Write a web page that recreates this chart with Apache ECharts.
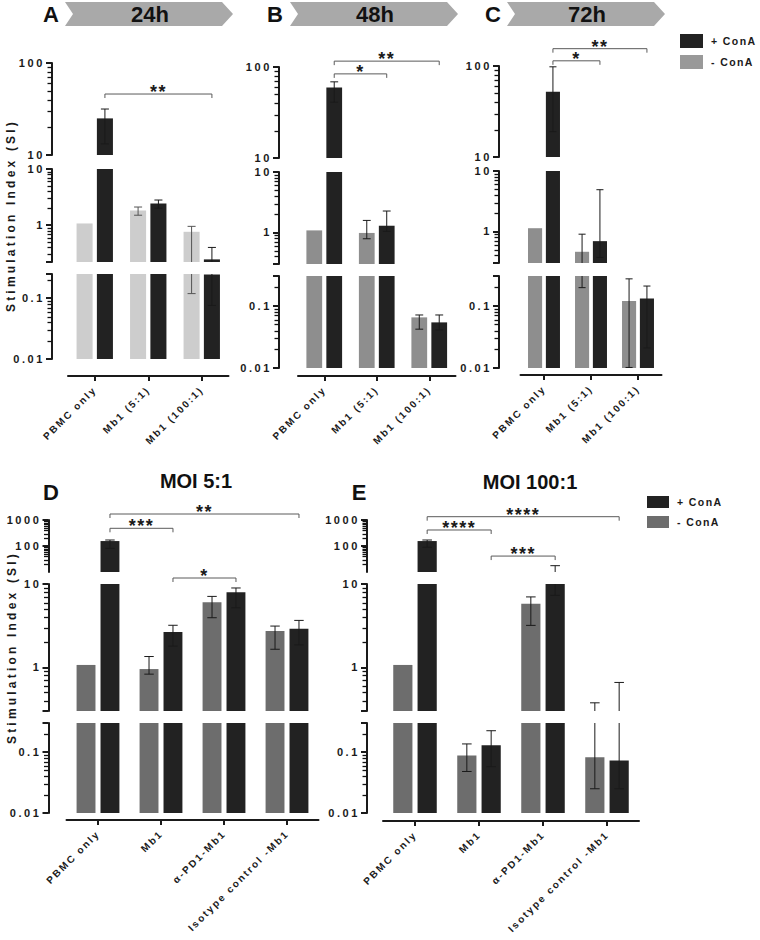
<!DOCTYPE html>
<html><head><meta charset="utf-8">
<script src="https://cdn.jsdelivr.net/npm/echarts@6/dist/echarts.min.js"></script>
<style>
html,body{margin:0;padding:0;background:#fff;}
#chart{width:760px;height:940px;}
#chart text[style*="Liberation Sans"]{letter-spacing:1.6px;}
#chart text[style*="Liberation Sans"][style*="11px"]{letter-spacing:2.6px;}
#chart text[style*="Liberation Sans"][style*="12px"]{letter-spacing:3.2px;}
#chart text[style*="Liberation Sans"][style*="10px"]{letter-spacing:2px;}
#chart text[style*="Liberation Sans"][style*="10.5px"]{letter-spacing:1.4px;}
#chart text[style*="Liberation Sans"][style*="18px"]{letter-spacing:1.5px;}
</style></head><body><div id="chart"></div>
<script>
// ---------------- DATA ----------------
const timeCategories = ['PBMC only', 'Mb1 (5:1)', 'Mb1 (100:1)'];
const moiCategories = ['PBMC only', 'Mb1', 'α-PD1-Mb1', 'Isotype control -Mb1'];
const seriesNames = ['+ ConA', '- ConA'];
const panelLetters = ['A', 'B', 'C', 'D', 'E'];
const panelTitles = ['24h', '48h', '72h', 'MOI 5:1', 'MOI 100:1'];
const yTickLabelsTime = ['0.01', '0.1', '1', '10', '100'];
const yTickLabelsMOI = ['0.01', '0.1', '1', '10', '100', '1000'];

// A: 24h
const a_minus = [1.07, 1.83, 0.76];
const a_minusLow = [null, 1.5, 0.119];
const a_minusHigh = [null, 2.1, 0.95];
const a_plus = [25, 2.43, 0.245];
const a_plusLow = [13.2, 2.0, 0.076];
const a_plusHigh = [31.6, 2.8, 0.40];
const a_sig = [{ from: 0, to: 2, level: 46, seg: 0, text: '**' }];

// B: 48h
const b_minus = [1.08, 0.98, 0.065];
const b_minusLow = [null, 0.785, 0.042];
const b_minusHigh = [null, 1.58, 0.071];
const b_plus = [59.5, 1.29, 0.054];
const b_plusLow = [41, 1.04, 0.041];
const b_plusHigh = [68.7, 2.26, 0.071];
const b_sig = [{ from: 0, to: 2, level: 116, seg: 0, text: '**' }, { from: 0, to: 1, level: 84, seg: 0, text: '*' }];

// C: 72h
const c_minus = [1.13, 0.46, 0.119];
const c_minusLow = [null, 0.195, 0.0102];
const c_minusHigh = [null, 0.90, 0.27];
const c_plus = [52, 0.69, 0.13];
const c_plusLow = [19, 0.37, 0.021];
const c_plusHigh = [98, 4.9, 0.207];
const c_sig = [{ from: 0, to: 2, level: 155, seg: 0, text: '**' }, { from: 0, to: 1, level: 114, seg: 0, text: '*' }];

// D: MOI 5:1
const d_minus = [1.07, 0.955, 6.04, 2.73];
const d_minusLow = [null, 0.83, 3.94, 1.65];
const d_minusHigh = [null, 1.35, 7.1, 3.13];
const d_plus = [155, 2.65, 7.94, 2.91];
const d_plusLow = [81, 1.8, 5.18, 1.86];
const d_plusHigh = [170, 3.2, 8.96, 3.66];
const d_sig = [{ from: 0, to: 3, level: 1700, seg: 0, text: '**' }, { from: 0, to: 1, level: 479, seg: 0, text: '***' }, { from: 1, to: 2, level: 11.8, seg: 1, text: '*' }];

// E: MOI 100:1
const e_minus = [1.07, 0.088, 5.8, 0.0826];
const e_minusLow = [null, 0.048, 3.19, 0.025];
const e_minusHigh = [null, 0.136, 7.0, 0.376];
const e_plus = [155, 0.129, 10, 0.0725];
const e_plusLow = [89, 0.0575, 7.3, 0.025];
const e_plusHigh = [170, 0.224, 17.5, 0.66];
const e_sig = [{ from: 0, to: 3, level: 1340, seg: 0, text: '****' }, { from: 0, to: 1, level: 413, seg: 0, text: '****' }, { from: 1, to: 2, level: 41, seg: 0, text: '***' }];

// ---------------- LAYOUT / STYLE ----------------
const INK = '#1a1a1a';
const PLUS_COLOR = '#222222';
const SPACED = 'Liberation Sans';

const panels = [
  { cats: timeCategories, minus: [a_minus, a_minusLow, a_minusHigh], plus: [a_plus, a_plusLow, a_plusHigh], sig: a_sig,
    minusColor: '#cdcdcd', minusErr: '#555', ticks: yTickLabelsTime, yName: true, hideTopMin: false,
    layout: { left: 68, width: 160.5, yOff: 16, xAxisY: 376, segs: [[10, 100, 63, 155], [0.22, 10, 169, 262], [0.01, 0.25, 274, 359]] } },
  { cats: timeCategories, minus: [b_minus, b_minusLow, b_minusHigh], plus: [b_plus, b_plusLow, b_plusHigh], sig: b_sig,
    minusColor: '#8e8e8e', minusErr: INK, ticks: yTickLabelsTime, yName: false, hideTopMin: false,
    layout: { left: 298, width: 157.5, yOff: 19, xAxisY: 376, segs: [[10, 100, 67, 158], [0.3, 10, 172, 264], [0.01, 0.3, 276, 368]] } },
  { cats: timeCategories, minus: [c_minus, c_minusLow, c_minusHigh], plus: [c_plus, c_plusLow, c_plusHigh], sig: c_sig,
    minusColor: '#8e8e8e', minusErr: INK, ticks: yTickLabelsTime, yName: false, hideTopMin: false,
    layout: { left: 520.5, width: 141, yOff: 21.5, xAxisY: 375, segs: [[10, 100, 66, 157], [0.3, 10, 171, 263], [0.01, 0.3, 276, 368]] } },
  { cats: moiCategories, minus: [d_minus, d_minusLow, d_minusHigh], plus: [d_plus, d_plusLow, d_plusHigh], sig: d_sig,
    minusColor: '#6d6d6d', minusErr: INK, ticks: yTickLabelsMOI, yName: true, hideTopMin: true,
    layout: { left: 66.5, width: 252, yOff: 18, xAxisY: 820, segs: [[10, 1000, 520, 572], [0.3, 10, 584, 711], [0.01, 0.3, 723, 813]] } },
  { cats: moiCategories, minus: [e_minus, e_minusLow, e_minusHigh], plus: [e_plus, e_plusLow, e_plusHigh], sig: e_sig,
    minusColor: '#6d6d6d', minusErr: INK, ticks: yTickLabelsMOI, yName: false, hideTopMin: true,
    layout: { left: 383, width: 256, yOff: 16, xAxisY: 821, segs: [[10, 1000, 520, 572], [0.3, 10, 584, 711], [0.01, 0.3, 723, 813]] } }
];

const fmt = v => String(+(+v).toPrecision(6));
const BAR_W = 0.3, BAR_OFF = 0.19, CAP_W = 0.15;

function minorValues(min, max) {
  const out = [];
  for (let e = Math.floor(Math.log10(min)) - 1; e <= Math.ceil(Math.log10(max)); e++) {
    for (let m = 2; m <= 9; m++) {
      const v = +(m * Math.pow(10, e)).toPrecision(6);
      if (v > min * 1.0001 && v < max * 0.9999) out.push(v);
    }
  }
  return out;
}

function barSeries(gi, name, side, triple, color, errColor, smin, smax) {
  const [vals, lows, highs] = triple;
  return {
    type: 'custom', name, xAxisIndex: gi, yAxisIndex: gi, silent: true, z: 2, clip: false,
    itemStyle: { color },
    data: vals.map((v, i) => [i, v]),
    renderItem: (params, api) => {
      const i = params.dataIndex;
      const v = vals[i], lo = lows[i], hi = highs[i];
      const band = api.size([1, 0])[0];
      const base = api.coord([i, smin]);
      const cx = base[0] + side * BAR_OFF * band;
      const bw = BAR_W * band;
      const children = [];
      if (v > smin) {
        const yTop = api.coord([i, Math.min(v, smax)])[1];
        children.push({ type: 'rect', shape: { x: cx - bw / 2, y: yTop, width: bw, height: base[1] - yTop }, style: { fill: color } });
      }
      if (lo != null && hi != null && hi > smin && lo < smax) {
        const ya = api.coord([i, Math.max(lo, smin)])[1];
        const yb = api.coord([i, Math.min(hi, smax)])[1];
        const cw = CAP_W * band / 2;
        const st = { stroke: errColor, lineWidth: 1 };
        children.push({ type: 'line', shape: { x1: cx, y1: ya, x2: cx, y2: yb }, style: st });
        if (lo >= smin) children.push({ type: 'line', shape: { x1: cx - cw, y1: ya, x2: cx + cw, y2: ya }, style: st });
        if (hi <= smax) children.push({ type: 'line', shape: { x1: cx - cw, y1: yb, x2: cx + cw, y2: yb }, style: st });
      }
      return { type: 'group', children };
    }
  };
}

function bracketSeries(gi, items) {
  return {
    type: 'custom', xAxisIndex: gi, yAxisIndex: gi, silent: true, z: 6, clip: false,
    data: items.map(b => [b.from, b.level]),
    renderItem: (params, api) => {
      const b = items[params.dataIndex];
      const band = api.size([1, 0])[0];
      const p1 = api.coord([b.from, b.level]);
      const p2 = api.coord([b.to, b.level]);
      const x1 = p1[0] + BAR_OFF * band, x2 = p2[0] + BAR_OFF * band, y = p1[1];
      return { type: 'group', children: [
        { type: 'polyline', shape: { points: [[x1, y + 4], [x1, y], [x2, y], [x2, y + 4]] }, style: { stroke: '#5a5a5a', lineWidth: 1, fill: null } },
        { type: 'text', style: { text: b.text, x: (x1 + x2) / 2, y: y - 2, align: 'center', verticalAlign: 'middle', textAlign: 'center', textVerticalAlign: 'middle',
            fontFamily: SPACED, fontWeight: 'bold', fontSize: 18, fill: INK } }
      ] };
    }
  };
}

const grids = [], xAxes = [], yAxes = [], series = [], segInfo = [];
let gi = 0;
panels.forEach((p) => {
  const L = p.layout;
  L.segs.forEach((s, si) => {
    const [smin, smax, top, bottom] = s;
    const isBottom = si === 2;
    segInfo.push({ gi, smin, smax, yOff: L.yOff });
    grids.push({ left: L.left, top: top, width: L.width, height: bottom - top });
    xAxes.push({
      type: 'category', gridIndex: gi, data: p.cats, show: isBottom,
      offset: isBottom ? L.xAxisY - bottom : 0,
      axisLine: { show: true, onZero: false, lineStyle: { color: INK, width: 2 } },
      axisTick: { show: true, alignWithLabel: true, length: 5, lineStyle: { color: INK, width: 2 } },
      axisLabel: { show: true, rotate: 45, interval: 0, margin: 12, fontFamily: SPACED, fontWeight: 'bold', fontSize: 10, color: INK },
      splitLine: { show: false }
    });
    yAxes.push({
      type: 'log', logBase: 10, gridIndex: gi, min: smin, max: smax, offset: L.yOff,
      axisLine: { show: true, onZero: false, lineStyle: { color: INK, width: 2 } },
      axisTick: { show: true, length: 6, lineStyle: { color: INK, width: 2 } },
      minorTick: { show: false },
      splitLine: { show: false },
      axisLabel: {
        show: true, margin: 7, fontFamily: SPACED, fontWeight: 'bold', fontSize: 11, color: INK,
        showMinLabel: !(p.hideTopMin && si === 0), showMaxLabel: true,
        formatter: v => { const t = fmt(v); return p.ticks.indexOf(t) >= 0 ? t : ''; }
      },
      name: (si === 1 && p.yName) ? 'Stimulation Index (SI)' : '',
      nameLocation: 'middle', nameGap: (p.layout.xAxisY > 500 ? 31 : 35),
      nameTextStyle: { fontFamily: SPACED, fontWeight: 'bold', fontSize: 12, color: INK }
    });
    series.push(barSeries(gi, seriesNames[1], -1, p.minus, p.minusColor, p.minusErr, smin, smax));
    series.push(barSeries(gi, seriesNames[0], 1, p.plus, PLUS_COLOR, INK, smin, smax));
    const segSig = p.sig.filter(b => b.seg === si);
    if (segSig.length) series.push(bracketSeries(gi, segSig));
    gi++;
  });
});

// ---------------- DECORATION ----------------
const chevrons = [
  { x0: 65, x1: 233, label: panelTitles[0], cx: 150 },
  { x0: 290, x1: 458, label: panelTitles[1], cx: 375 },
  { x0: 507, x1: 665, label: panelTitles[2], cx: 587 }
];
const graphic = [];
chevrons.forEach(c => {
  graphic.push({ type: 'polygon', shape: { points: [[c.x0, 2], [c.x1 - 11, 2], [c.x1, 14], [c.x1 - 11, 26], [c.x0, 26], [c.x0 + 8, 14]] },
    style: { fill: '#a9a9a9' }, z: 1 });
  graphic.push({ type: 'text', x: c.cx, y: 14, style: { text: c.label, font: 'bold 22px Arial', fill: '#111', align: 'center', verticalAlign: 'middle' }, z: 2 });
});
const letterPos = [[51, 14], [275, 14], [493, 14], [51, 492], [359, 492]];
panelLetters.forEach((l, i) => {
  graphic.push({ type: 'text', x: letterPos[i][0], y: letterPos[i][1], style: { text: l, font: 'bold 22px Arial', fill: '#111', align: 'center', verticalAlign: 'middle' } });
});
graphic.push({ type: 'text', x: 196, y: 481, style: { text: panelTitles[3], font: 'bold 20px Arial', fill: '#111', align: 'center', verticalAlign: 'middle' } });
graphic.push({ type: 'text', x: 530, y: 482, style: { text: panelTitles[4], font: 'bold 20px Arial', fill: '#111', align: 'center', verticalAlign: 'middle' } });

const legendText = { fontFamily: SPACED, fontWeight: 'bold', fontSize: 10.5, color: INK, padding: [0, 0, 0, 3] };

const option = {
  animation: false,
  backgroundColor: '#fff',
  grid: grids, xAxis: xAxes, yAxis: yAxes, series,
  graphic,
  legend: [
    { orient: 'vertical', left: 680, top: 34, padding: 0, itemWidth: 23, itemHeight: 14, itemGap: 7, icon: 'rect', selectedMode: false,
      data: [{ name: seriesNames[0], itemStyle: { color: PLUS_COLOR } }, { name: seriesNames[1], itemStyle: { color: '#999999' } }],
      textStyle: legendText },
    { orient: 'vertical', left: 647, top: 496, padding: 0, itemWidth: 22, itemHeight: 12, itemGap: 8, icon: 'rect', selectedMode: false,
      data: [{ name: seriesNames[0], itemStyle: { color: PLUS_COLOR } }, { name: seriesNames[1], itemStyle: { color: '#6d6d6d' } }],
      textStyle: legendText }
  ]
};

const chart = echarts.init(document.getElementById('chart'), null, { renderer: 'svg', width: 760, height: 940 });
chart.setOption(option);

// minor log ticks on each offset y axis, positioned through the axes' own scales
const minorGraphic = [];
segInfo.forEach(s => {
  const finder = { xAxisIndex: s.gi, yAxisIndex: s.gi };
  const c0 = chart.convertToPixel(finder, [0, s.smax]);
  const c1 = chart.convertToPixel(finder, [1, s.smax]);
  const band = c1[0] - c0[0];
  const ax = c0[0] - band / 2 - s.yOff;
  minorValues(s.smin, s.smax).forEach(m => {
    const y = Math.round(chart.convertToPixel(finder, [0, m])[1]) + 0.5;
    minorGraphic.push({ type: 'line', shape: { x1: ax - 4.5, y1: y, x2: ax, y2: y }, style: { stroke: '#111', lineWidth: 1.3 }, z: 10, silent: true });
  });
});
chart.setOption({ graphic: graphic.concat(minorGraphic) });
</script></body></html>
